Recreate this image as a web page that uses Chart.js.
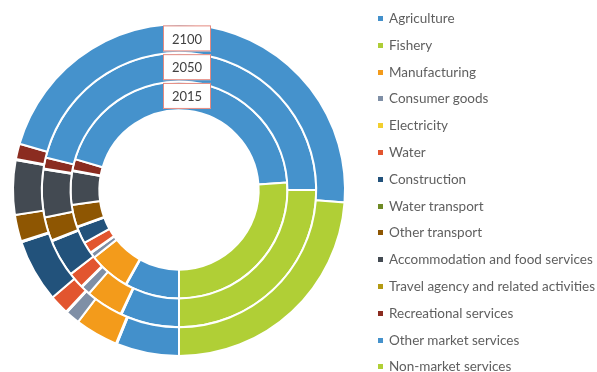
<!DOCTYPE html>
<html>
<head>
<meta charset="utf-8">
<script src="https://cdn.jsdelivr.net/npm/chart.js@4"></script>
<style>
  html, body { margin: 0; padding: 0; background: #fff; overflow: hidden; }
  #wrap { position: relative; width: 597px; height: 372px; overflow: hidden; }
  #chart { position: absolute; left: 0; top: 0; }
  #legend { position: absolute; left: 378px; top: 0; margin: 0; padding: 0; list-style: none;
            font: 13.5px Lato, "Open Sans", sans-serif; color: #5f5f5f; white-space: nowrap; }
  #legend li { position: absolute; left: 0; height: 16px; line-height: 16px; }
  #legend .sw { display: inline-block; width: 5px; height: 5px; margin-right: 6px; vertical-align: middle; position: relative; top: -1px; }
</style>
</head>
<body>
<div id="wrap">
  <canvas id="chart" width="597" height="372"></canvas>
  <ul id="legend"></ul>
</div>
<script>
// Sector shares of output (%), per year
const categories = [
  'Agriculture', 'Fishery', 'Manufacturing', 'Consumer goods', 'Electricity', 'Water',
  'Construction', 'Water transport', 'Other transport', 'Accommodation and food services',
  'Travel agency and related activities', 'Recreational services', 'Other market services',
  'Non-market services'
];
const shares2015 = [8.1, 0.1, 6.1, 0.8, 0.1, 1.7, 2.5, 0.1, 3.3, 5.0, 0.1, 1.7, 44.3, 26.1];
const shares2050 = [6.9, 0.1, 4.4, 1.1, 0.1, 1.9, 4.4, 0.1, 2.8, 5.6, 0.1, 1.3, 46.2, 25.0];
const shares2100 = [6.1, 0.1, 4.2, 1.4, 0.1, 1.9, 6.1, 0.1, 2.6, 5.3, 0.1, 1.5, 46.7, 23.8];
// Rings from outside to inside
const ringYears = ['2100', '2050', '2015'];
const ringShares = [shares2100, shares2050, shares2015];

const sectorColors = [
  '#4390CB', '#AECD37', '#F39B1B', '#7F8FA6', '#F2CF2E', '#E2552F',
  '#22527B', '#6E8A24', '#8E5602', '#434A52', '#B39A12', '#8B2C20',
  '#4592CC', '#B0CF36'
];

// Year tag boxes at the top of each ring
const ringTags = {
  id: 'ringTags',
  afterDatasetsDraw(chart) {
    const ctx = chart.ctx;
    ctx.save();
    chart.data.datasets.forEach((ds, i) => {
      const arc = chart.getDatasetMeta(i).data[0];
      const p = arc.getProps(['x', 'y', 'innerRadius', 'outerRadius'], true);
      const mid = (p.innerRadius + p.outerRadius) / 2;
      const cx = p.x + 8, cy = p.y - mid;
      const w = 48, h = 26;
      ctx.fillStyle = '#ffffff';
      ctx.fillRect(cx - w / 2, cy - h / 2, w, h);
      ctx.strokeStyle = '#E48A80';
      ctx.lineWidth = 1;
      ctx.strokeRect(cx - w / 2 + 0.5, cy - h / 2 + 0.5, w - 1, h - 1);
      ctx.fillStyle = '#404040';
      ctx.font = '13px Lato, "Open Sans", sans-serif';
      ctx.textAlign = 'center';
      ctx.textBaseline = 'middle';
      ctx.fillText(ds.label, cx, cy + 1);
    });
    ctx.restore();
  }
};

new Chart(document.getElementById('chart'), {
  type: 'doughnut',
  data: {
    labels: categories,
    datasets: ringYears.map((year, i) => ({
      label: year,
      data: ringShares[i],
      backgroundColor: sectorColors,
      borderColor: '#ffffff',
      borderWidth: 2
    }))
  },
  options: {
    responsive: false,
    animation: false,
    rotation: 180,
    cutout: '48%',
    layout: { padding: { left: 12, top: 23, right: 251, bottom: 15 } },
    plugins: { legend: { display: false }, tooltip: { enabled: false } }
  },
  plugins: [ringTags]
});

// Legend list
const legend = document.getElementById('legend');
categories.forEach((name, i) => {
  const li = document.createElement('li');
  li.style.top = (10 + i * 26.8) + 'px';
  const sw = document.createElement('span');
  sw.className = 'sw';
  sw.style.background = sectorColors[i];
  li.appendChild(sw);
  li.appendChild(document.createTextNode(name));
  legend.appendChild(li);
});
</script>
</body>
</html>
